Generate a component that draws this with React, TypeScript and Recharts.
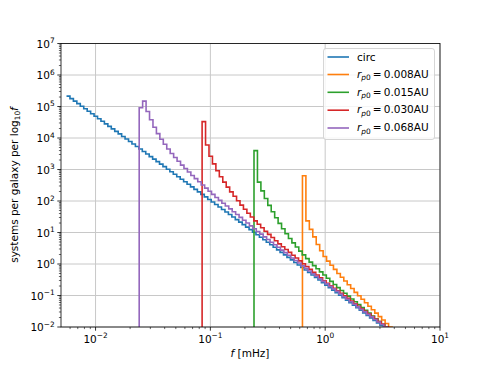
import React from 'react';
import { LineChart, Line, XAxis, YAxis, CartesianGrid } from 'recharts';

// histogram bin width in dex (log10 f)
const BIN_DEX = 0.03;

// log10 of first bin edge, per series
const CIRC_START = -2.253;
const ORANGE_START = -0.198;
const GREEN_START = -0.62;
const RED_START = -1.072;
const PURPLE_START = -1.62;

// log10(systems per galaxy per log10 f), one value per bin
const CIRC_LOG = [
  5.33, 5.25, 5.17, 5.09, 5.01, 4.93, 4.85, 4.77, 4.69, 4.61, 4.53, 4.45, 4.37, 4.29, 4.21, 4.13,
  4.05, 3.97, 3.89, 3.81, 3.73, 3.65, 3.57, 3.49, 3.41, 3.33, 3.25, 3.17, 3.09, 3.01, 2.93, 2.85,
  2.77, 2.69, 2.61, 2.53, 2.45, 2.37, 2.29, 2.21, 2.13, 2.05, 1.97, 1.89, 1.81, 1.73, 1.65, 1.57,
  1.49, 1.41, 1.33, 1.25, 1.17, 1.09, 1.01, 0.93, 0.85, 0.77, 0.69, 0.61, 0.53, 0.45, 0.37, 0.29,
  0.21, 0.13, 0.05, -0.03, -0.11, -0.19, -0.27, -0.35, -0.43, -0.51, -0.59, -0.67, -0.75, -0.83,
  -0.91, -0.99, -1.07, -1.15, -1.23, -1.31, -1.39, -1.47, -1.55, -1.63, -1.71, -1.79, -1.87, -1.95,
  -2.03, -2.11,
];
const ORANGE_LOG = [
  2.8, 1.37, 1.1, 0.86, 0.62, 0.42, 0.24, 0.09, -0.04, -0.17, -0.3, -0.42, -0.54, -0.66, -0.78,
  -0.9, -1.01, -1.12, -1.23, -1.34, -1.45, -1.56, -1.67, -1.78, -1.89, -2.0, -2.11,
];
const GREEN_LOG = [
  3.6, 2.6, 2.32, 2.08, 1.86, 1.66, 1.47, 1.29, 1.12, 0.96, 0.81, 0.67, 0.54, 0.41, 0.29, 0.17,
  0.06, -0.05, -0.15, -0.25, -0.35, -0.45, -0.55, -0.65, -0.75, -0.84, -0.93, -1.02, -1.11, -1.2,
  -1.29, -1.38, -1.47, -1.56, -1.65, -1.74, -1.83, -1.92, -2.01, -2.1,
];
const RED_LOG = [
  4.52, 3.78, 3.42, 3.18, 2.96, 2.77, 2.6, 2.44, 2.29, 2.15, 2.01, 1.87, 1.74, 1.61, 1.49, 1.37,
  1.26, 1.15, 1.04, 0.94, 0.84, 0.74, 0.64, 0.55, 0.46, 0.37, 0.28, 0.19, 0.1, 0.01, -0.08, -0.17,
  -0.26, -0.35, -0.44, -0.53, -0.61, -0.69, -0.77, -0.85, -0.93, -1.01, -1.09, -1.18, -1.26, -1.34,
  -1.42, -1.5, -1.58, -1.67, -1.75, -1.83, -1.91, -1.99, -2.07, -2.15,
];
const PURPLE_LOG = [
  4.96, 5.17, 4.84, 4.58, 4.34, 4.14, 3.96, 3.8, 3.65, 3.51, 3.38, 3.26, 3.14, 3.03, 2.92, 2.81,
  2.71, 2.61, 2.51, 2.41, 2.31, 2.21, 2.11, 2.02, 1.93, 1.84, 1.75, 1.66, 1.57, 1.48, 1.39, 1.3,
  1.21, 1.12, 1.03, 0.95, 0.86, 0.78, 0.69, 0.61, 0.53, 0.44, 0.36, 0.28, 0.19, 0.11, 0.03, -0.06,
  -0.14, -0.22, -0.31, -0.39, -0.47, -0.55, -0.63, -0.71, -0.79, -0.87, -0.95, -1.04, -1.12, -1.2,
  -1.28, -1.36, -1.44, -1.52, -1.6, -1.68, -1.76, -1.84, -1.92, -2.0, -2.08,
];

const SERIES_NAMES = ['circ', '0.008AU', '0.015AU', '0.030AU', '0.068AU'];
const SERIES_COLORS = ['#1f77b4', '#ff7f0e', '#2ca02c', '#d62728', '#9467bd'];

const X_DOMAIN: [number, number] = [0.005, 10];
const Y_DOMAIN: [number, number] = [0.01, 1e7];
const X_MAJOR = [0.01, 0.1, 1, 10];
const Y_MAJOR = [1e-2, 1e-1, 1, 1e1, 1e2, 1e3, 1e4, 1e5, 1e6, 1e7];

const FONT = 'DejaVu Sans, Verdana, sans-serif';

function withMinors(major: number[]) {
  const out: number[] = [];
  major.forEach((m, i) => {
    out.push(m);
    if (i < major.length - 1) {
      for (let k = 2; k <= 9; k++) out.push(Number((k * m).toPrecision(3)));
    }
  });
  return out;
}
const X_TICKS = [0.006, 0.007, 0.008, 0.009, ...withMinors(X_MAJOR)];
const Y_TICKS = withMinors(Y_MAJOR);

function histData(start: number, logs: number[], rise: boolean) {
  const pts: { f: number; v: number }[] = [];
  if (rise) pts.push({ f: 10 ** start, v: 1e-5 });
  logs.forEach((lv, k) => pts.push({ f: 10 ** (start + k * BIN_DEX), v: 10 ** lv }));
  pts.push({ f: 10 ** (start + logs.length * BIN_DEX), v: 10 ** logs[logs.length - 1] });
  return pts;
}

const SERIES = [
  histData(CIRC_START, CIRC_LOG, false),
  histData(ORANGE_START, ORANGE_LOG, true),
  histData(GREEN_START, GREEN_LOG, true),
  histData(RED_START, RED_LOG, true),
  histData(PURPLE_START, PURPLE_LOG, true),
];

const isMajor = (v: number) => {
  const e = Math.log10(v);
  return Math.abs(e - Math.round(e)) < 1e-6;
};
const expLabel = (v: number) => {
  const e = Math.round(Math.log10(v));
  return e < 0 ? '\u2212' + String(-e) : String(e);
};

const XTick = (props: any) => {
  const { x, y, payload } = props;
  const v = payload.value;
  const major = isMajor(v);
  return (
    <g>
      <line x1={x} x2={x} y1={y} y2={y + (major ? 3.7 : 2.1)} stroke="#000" strokeWidth={major ? 0.8 : 0.6} />
      {major && (
        <text x={x} y={y + 15.5} textAnchor="middle" fontSize={10.5} fontFamily={FONT} fill="#000">
          10
          <tspan dy={-4.6} fontSize={7.4}>
            {expLabel(v)}
          </tspan>
        </text>
      )}
    </g>
  );
};

const YTick = (props: any) => {
  const { x, y, payload } = props;
  const v = payload.value;
  const major = isMajor(v);
  return (
    <g>
      <line x1={x} x2={x - (major ? 3.7 : 2.1)} y1={y} y2={y} stroke="#000" strokeWidth={major ? 0.8 : 0.6} />
      {major && (
        <text x={x - 6.3} y={y + 4.2} textAnchor="end" fontSize={10.5} fontFamily={FONT} fill="#000">
          10
          <tspan dy={-4.6} fontSize={7.4}>
            {expLabel(v)}
          </tspan>
        </text>
      )}
    </g>
  );
};

const PLOT = { left: 61, top: 43.5, right: 440, bottom: 327 };
const LEGEND_ROWS = [57, 74.5, 92.3, 110.2, 128];

export default function App() {
  return (
    <div style={{ position: 'absolute', left: 0, top: 0, width: 490, height: 368, background: '#fff' }}>
      <LineChart
        width={490}
        height={368}
        margin={{ top: PLOT.top, right: 490 - PLOT.right, bottom: 0, left: 0 }}
      >
        <CartesianGrid
          horizontalValues={Y_MAJOR}
          verticalValues={X_MAJOR}
          stroke="#c8c8c8"
          strokeWidth={1}
        />
        <XAxis
          type="number"
          dataKey="f"
          scale="log"
          domain={X_DOMAIN}
          allowDataOverflow
          ticks={X_TICKS}
          interval={0}
          tick={<XTick />}
          tickLine={false}
          axisLine={false}
          tickSize={0}
          tickMargin={0}
          height={368 - PLOT.bottom}
        />
        <YAxis
          type="number"
          scale="log"
          domain={Y_DOMAIN}
          allowDataOverflow
          ticks={Y_TICKS}
          interval={0}
          tick={<YTick />}
          tickLine={false}
          axisLine={false}
          tickSize={0}
          tickMargin={0}
          width={PLOT.left}
        />
        {SERIES.map((d, i) => (
          <Line
            key={SERIES_NAMES[i]}
            data={d}
            dataKey="v"
            name={SERIES_NAMES[i]}
            type="stepAfter"
            stroke={SERIES_COLORS[i]}
            strokeWidth={1.6}
            dot={false}
            activeDot={false}
            isAnimationActive={false}
          />
        ))}
      </LineChart>
      <svg
        width={490}
        height={368}
        style={{ position: 'absolute', left: 0, top: 0, pointerEvents: 'none' }}
      >
        <rect
          x={PLOT.left}
          y={PLOT.top}
          width={PLOT.right - PLOT.left}
          height={PLOT.bottom - PLOT.top}
          fill="none"
          stroke="#000"
          strokeWidth={0.8}
        />
        {/* axis titles */}
        <text x={250} y={357} textAnchor="middle" fontSize={10.5} fontFamily={FONT} fill="#000">
          <tspan fontStyle="italic">f</tspan> [mHz]
        </text>
        <text
          transform="translate(17.5,185) rotate(-90)"
          textAnchor="middle"
          fontSize={10.5}
          fontFamily={FONT}
          fill="#000"
        >
          systems per galaxy per log
          <tspan dy={2.6} fontSize={7.4}>10</tspan>
          <tspan dy={-2.6} fontStyle="italic">f</tspan>
        </text>
        {/* legend */}
        <rect x={323.5} y={48.5} width={111} height={91} rx={2.5} fill="#fff" fillOpacity={0.8} stroke="#cccccc" strokeWidth={0.8} />
        {SERIES_NAMES.map((n, i) => {
          const cy = LEGEND_ROWS[i];
          return (
            <g key={n}>
              <line x1={327.5} x2={349} y1={cy} y2={cy} stroke={SERIES_COLORS[i]} strokeWidth={1.6} />
              {i === 0 ? (
                <text x={357} y={cy + 3.8} fontSize={10.5} fontFamily={FONT} fill="#000">
                  circ
                </text>
              ) : (
                <text x={357} y={cy + 3.2} fontSize={10.5} fontFamily={FONT} fill="#000">
                  <tspan fontStyle="italic">r</tspan>
                  <tspan dy={2.4} fontSize={7.4} fontStyle="italic">p</tspan>
                  <tspan fontSize={7.4}>0</tspan>
                  <tspan dy={-2.4}>{'\u2009=\u20090.' + n.slice(2)}</tspan>
                </text>
              )}
            </g>
          );
        })}
      </svg>
    </div>
  );
}
